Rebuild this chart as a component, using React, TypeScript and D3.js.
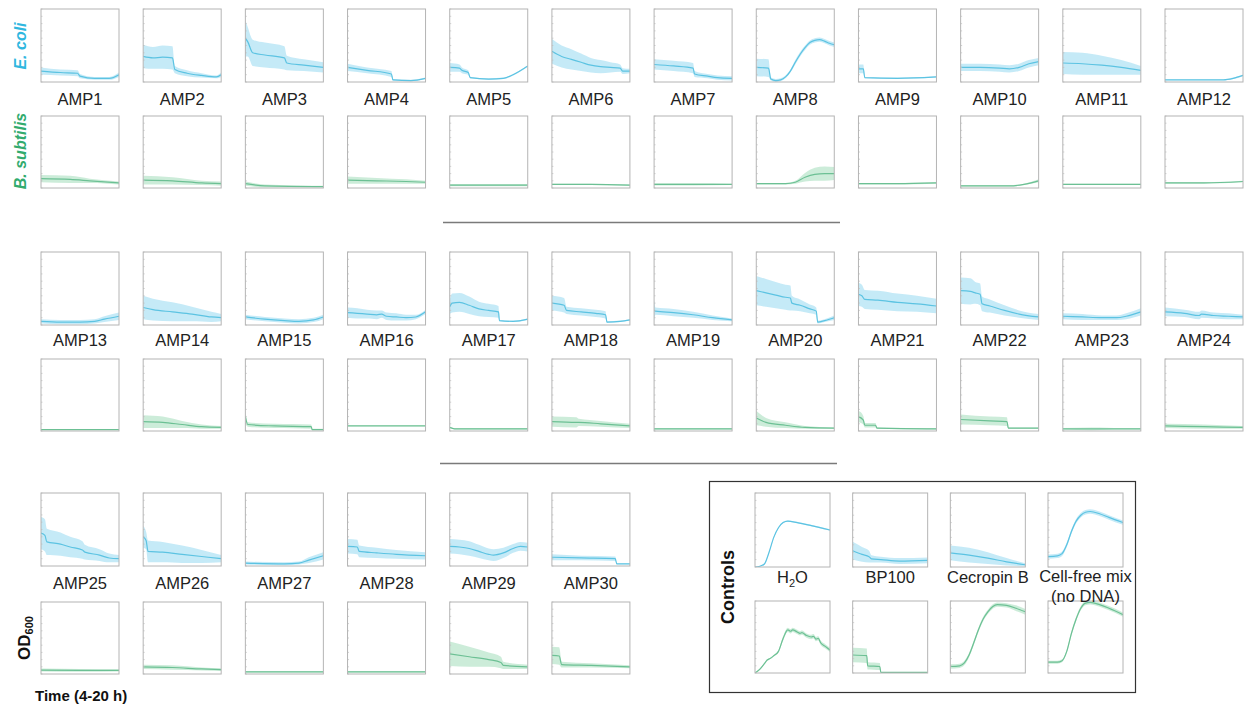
import React from "react";
import * as d3 from "d3";

// each series: [time (h), mean OD (normalised), spread]
type Pt = [number, number, number];

const labelsA = ["AMP1", "AMP2", "AMP3", "AMP4", "AMP5", "AMP6", "AMP7", "AMP8", "AMP9", "AMP10", "AMP11", "AMP12"];
const labelsB = ["AMP13", "AMP14", "AMP15", "AMP16", "AMP17", "AMP18", "AMP19", "AMP20", "AMP21", "AMP22", "AMP23", "AMP24"];
const labelsC = ["AMP25", "AMP26", "AMP27", "AMP28", "AMP29", "AMP30"];
const ctrlLabels = ["H2O", "BP100", "Cecropin B", "Cell-free mix"];

const ecoliA: Pt[][] = [
  [[4, 0.15, 0.05], [8, 0.13, 0.04], [11.5, 0.12, 0.04], [12, 0.08, 0.03], [15, 0.05, 0.02], [18, 0.05, 0.02], [20, 0.1, 0.03]],
  [[4, 0.35, 0.16], [6, 0.33, 0.15], [8, 0.34, 0.16], [10, 0.33, 0.16], [10.5, 0.17, 0.05], [13, 0.12, 0.04], [16, 0.09, 0.03], [19, 0.07, 0.02], [20, 0.1, 0.03]],
  [[4, 0.6, 0.25], [4.5, 0.55, 0.2], [5.5, 0.4, 0.18], [8, 0.37, 0.17], [12, 0.33, 0.16], [12.5, 0.26, 0.1], [16, 0.23, 0.08], [20, 0.2, 0.07]],
  [[4, 0.2, 0.05], [8, 0.16, 0.04], [13, 0.11, 0.04], [13.3, 0.03, 0.01], [17, 0.02, 0.01], [20, 0.05, 0.01]],
  [[4, 0.2, 0.06], [6, 0.19, 0.05], [6.5, 0.16, 0.04], [7.8, 0.13, 0.03], [8.2, 0.06, 0.01], [12, 0.04, 0.01], [15, 0.05, 0.01], [17, 0.1, 0.01], [20, 0.22, 0.01]],
  [[4, 0.42, 0.17], [6, 0.35, 0.15], [8, 0.31, 0.14], [10, 0.27, 0.12], [12, 0.23, 0.1], [14, 0.21, 0.09], [16, 0.2, 0.07], [18, 0.19, 0.05], [18.5, 0.15, 0.04], [20, 0.15, 0.03]],
  [[4, 0.24, 0.07], [8, 0.22, 0.07], [12, 0.19, 0.07], [12.3, 0.11, 0.04], [15, 0.08, 0.03], [17, 0.06, 0.03], [20, 0.05, 0.03]],
  [[4, 0.2, 0.12], [6.5, 0.19, 0.12], [7, 0.04, 0.02], [8, 0.02, 0.02], [9, 0.03, 0.02], [10, 0.07, 0.02], [11, 0.15, 0.02], [12, 0.27, 0.03], [13, 0.38, 0.03], [14, 0.47, 0.03], [15, 0.54, 0.03], [16, 0.57, 0.03], [17, 0.58, 0.03], [18, 0.56, 0.03], [19, 0.53, 0.03], [20, 0.51, 0.03]],
  [[4, 0.18, 0.06], [5, 0.18, 0.06], [5.3, 0.06, 0.01], [12, 0.05, 0.01], [20, 0.07, 0.01]],
  [[4, 0.2, 0.05], [8, 0.2, 0.05], [12, 0.19, 0.05], [14, 0.18, 0.05], [16, 0.2, 0.05], [18, 0.25, 0.05], [20, 0.28, 0.05]],
  [[4, 0.26, 0.15], [8, 0.25, 0.15], [12, 0.23, 0.13], [16, 0.2, 0.1], [20, 0.16, 0.06]],
  [[4, 0.03, 0.005], [12, 0.03, 0.005], [16, 0.03, 0.005], [18, 0.05, 0.01], [20, 0.09, 0.01]],
];

const bsubA: Pt[][] = [
  [[4, 0.13, 0.05], [10, 0.12, 0.05], [14, 0.1, 0.03], [20, 0.07, 0.02]],
  [[4, 0.11, 0.06], [10, 0.1, 0.05], [16, 0.07, 0.03], [20, 0.06, 0.03]],
  [[4, 0.06, 0.03], [8, 0.03, 0.02], [20, 0.02, 0.01]],
  [[4, 0.11, 0.05], [10, 0.1, 0.04], [16, 0.09, 0.03], [20, 0.08, 0.02]],
  [[4, 0.04, 0.015], [12, 0.04, 0.015], [20, 0.04, 0.015]],
  [[4, 0.05, 0.01], [12, 0.05, 0.01], [20, 0.04, 0.01]],
  [[4, 0.05, 0.015], [12, 0.05, 0.015], [20, 0.05, 0.01]],
  [[4, 0.06, 0.01], [10, 0.06, 0.01], [12, 0.08, 0.02], [14, 0.15, 0.06], [16, 0.19, 0.09], [18, 0.2, 0.1], [20, 0.2, 0.09]],
  [[4, 0.06, 0.01], [12, 0.06, 0.01], [20, 0.07, 0.01]],
  [[4, 0.03, 0.01], [14, 0.03, 0.01], [17, 0.05, 0.01], [20, 0.1, 0.02]],
  [[4, 0.05, 0.01], [12, 0.05, 0.01], [20, 0.05, 0.01]],
  [[4, 0.07, 0.01], [12, 0.07, 0.01], [20, 0.09, 0.01]],
];

const ecoliB: Pt[][] = [
  [[4, 0.05, 0.03], [8, 0.04, 0.03], [12, 0.04, 0.03], [15, 0.05, 0.03], [17, 0.08, 0.04], [20, 0.12, 0.05]],
  [[4, 0.24, 0.16], [6, 0.21, 0.15], [10, 0.18, 0.13], [14, 0.15, 0.1], [18, 0.11, 0.07], [20, 0.1, 0.05]],
  [[4, 0.11, 0.03], [8, 0.08, 0.03], [12, 0.06, 0.03], [15, 0.05, 0.03], [18, 0.07, 0.03], [20, 0.11, 0.03]],
  [[4, 0.17, 0.07], [6, 0.16, 0.07], [8, 0.15, 0.06], [10, 0.14, 0.06], [11, 0.15, 0.05], [12, 0.12, 0.05], [14, 0.11, 0.05], [16, 0.1, 0.04], [18, 0.11, 0.03], [20, 0.18, 0.03]],
  [[4, 0.25, 0.1], [4.5, 0.3, 0.13], [6, 0.31, 0.13], [8, 0.27, 0.12], [10, 0.22, 0.1], [12, 0.2, 0.09], [14, 0.18, 0.08], [14.2, 0.06, 0.01], [17, 0.05, 0.01], [20, 0.08, 0.01]],
  [[4, 0.3, 0.1], [6.5, 0.27, 0.1], [7, 0.2, 0.05], [10, 0.18, 0.05], [13, 0.16, 0.05], [15, 0.14, 0.05], [15.3, 0.04, 0.01], [18, 0.05, 0.01], [20, 0.07, 0.01]],
  [[4, 0.2, 0.15], [4.3, 0.19, 0.05], [8, 0.17, 0.05], [12, 0.14, 0.04], [16, 0.1, 0.03], [20, 0.07, 0.02]],
  [[4, 0.47, 0.2], [6, 0.44, 0.19], [8, 0.41, 0.18], [10, 0.38, 0.17], [11, 0.37, 0.17], [11.3, 0.3, 0.1], [13, 0.27, 0.08], [15, 0.22, 0.06], [16.3, 0.19, 0.05], [16.6, 0.04, 0.02], [18, 0.06, 0.02], [20, 0.1, 0.03]],
  [[4, 0.42, 0.16], [4.7, 0.4, 0.15], [5.3, 0.35, 0.13], [8, 0.34, 0.13], [12, 0.31, 0.12], [16, 0.29, 0.11], [20, 0.26, 0.1]],
  [[4, 0.47, 0.18], [6, 0.46, 0.18], [7, 0.44, 0.15], [8, 0.42, 0.15], [8.4, 0.29, 0.1], [10, 0.26, 0.09], [13, 0.2, 0.07], [16, 0.15, 0.05], [20, 0.11, 0.04]],
  [[4, 0.12, 0.04], [8, 0.11, 0.04], [12, 0.1, 0.03], [15, 0.1, 0.03], [17, 0.12, 0.04], [20, 0.18, 0.05]],
  [[4, 0.18, 0.06], [8, 0.16, 0.05], [11, 0.13, 0.05], [11.5, 0.15, 0.05], [14, 0.13, 0.04], [17, 0.12, 0.04], [20, 0.11, 0.03]],
];

const bsubB: Pt[][] = [
  [[4, 0.02, 0.005], [12, 0.02, 0.005], [20, 0.02, 0.005]],
  [[4, 0.13, 0.09], [8, 0.12, 0.08], [12, 0.09, 0.05], [16, 0.06, 0.03], [20, 0.05, 0.02]],
  [[4, 0.2, 0.1], [4.5, 0.09, 0.03], [10, 0.07, 0.03], [17.5, 0.06, 0.03], [17.7, 0.02, 0.01], [20, 0.02, 0.01]],
  [[4, 0.07, 0.005], [12, 0.07, 0.005], [20, 0.07, 0.005]],
  [[4, 0.05, 0.01], [5, 0.03, 0.01], [20, 0.03, 0.01]],
  [[4, 0.13, 0.07], [9, 0.12, 0.07], [9.5, 0.12, 0.05], [14, 0.1, 0.04], [20, 0.07, 0.03]],
  [[4, 0.03, 0.01], [12, 0.03, 0.01], [20, 0.03, 0.01]],
  [[4, 0.18, 0.1], [6, 0.12, 0.06], [10, 0.08, 0.04], [14, 0.05, 0.02], [20, 0.04, 0.01]],
  [[4, 0.2, 0.08], [5, 0.15, 0.06], [5.3, 0.08, 0.03], [7.5, 0.08, 0.03], [7.8, 0.04, 0.01], [20, 0.03, 0.01]],
  [[4, 0.16, 0.07], [10, 0.14, 0.06], [13.5, 0.13, 0.06], [13.8, 0.04, 0.01], [20, 0.04, 0.01]],
  [[4, 0.03, 0.01], [10, 0.03, 0.02], [16, 0.03, 0.01], [20, 0.03, 0.01]],
  [[4, 0.07, 0.03], [12, 0.06, 0.03], [20, 0.05, 0.02]],
];

const ecoliC: Pt[][] = [
  [[4, 0.45, 0.22], [4.8, 0.42, 0.22], [5.2, 0.33, 0.18], [8, 0.3, 0.16], [10, 0.26, 0.14], [12.5, 0.22, 0.12], [13, 0.19, 0.1], [16, 0.15, 0.08], [18, 0.11, 0.06], [20, 0.1, 0.05]],
  [[4, 0.4, 0.15], [4.6, 0.35, 0.12], [5, 0.2, 0.15], [8, 0.19, 0.14], [12, 0.16, 0.12], [16, 0.13, 0.09], [20, 0.1, 0.05]],
  [[4, 0.04, 0.02], [12, 0.03, 0.02], [15, 0.04, 0.02], [17, 0.08, 0.04], [20, 0.14, 0.05]],
  [[4, 0.27, 0.1], [6, 0.26, 0.1], [6.4, 0.2, 0.08], [10, 0.18, 0.07], [14, 0.16, 0.06], [20, 0.14, 0.05]],
  [[4, 0.27, 0.1], [6, 0.26, 0.1], [8, 0.24, 0.1], [10, 0.2, 0.09], [12, 0.16, 0.08], [13, 0.15, 0.08], [15, 0.18, 0.07], [17, 0.24, 0.06], [18.5, 0.27, 0.06], [20, 0.26, 0.06]],
  [[4, 0.12, 0.04], [10, 0.11, 0.03], [17, 0.1, 0.03], [17.3, 0.03, 0.005], [20, 0.03, 0.005]],
];

const bsubC: Pt[][] = [
  [[4, 0.055, 0.02], [12, 0.05, 0.02], [20, 0.05, 0.015]],
  [[4, 0.1, 0.03], [10, 0.09, 0.03], [16, 0.07, 0.02], [20, 0.06, 0.02]],
  [[4, 0.03, 0.01], [12, 0.03, 0.01], [20, 0.03, 0.01]],
  [[4, 0.03, 0.01], [12, 0.03, 0.01], [20, 0.03, 0.01]],
  [[4, 0.28, 0.17], [8, 0.24, 0.14], [12, 0.2, 0.1], [14.5, 0.16, 0.08], [15, 0.12, 0.05], [20, 0.1, 0.03]],
  [[4, 0.26, 0.12], [5.5, 0.25, 0.12], [6, 0.13, 0.04], [12, 0.12, 0.03], [20, 0.1, 0.02]],
];

const ctrlEcoli: Pt[][] = [
  [[4, 0.0, 0.005], [5, 0.01, 0.005], [6, 0.04, 0.01], [7, 0.2, 0.01], [8, 0.4, 0.01], [9, 0.53, 0.01], [10, 0.6, 0.01], [11, 0.62, 0.01], [13, 0.6, 0.01], [16, 0.56, 0.01], [20, 0.5, 0.01]],
  [[4, 0.22, 0.12], [6, 0.17, 0.1], [7.5, 0.14, 0.08], [8, 0.11, 0.05], [10, 0.1, 0.04], [14, 0.08, 0.04], [20, 0.09, 0.04]],
  [[4, 0.19, 0.1], [8, 0.16, 0.1], [12, 0.12, 0.08], [16, 0.07, 0.05], [20, 0.03, 0.02]],
  [[4, 0.14, 0.03], [6, 0.15, 0.03], [7, 0.18, 0.03], [8, 0.3, 0.03], [9, 0.48, 0.03], [10, 0.62, 0.03], [11, 0.7, 0.03], [12, 0.74, 0.03], [13, 0.75, 0.03], [15, 0.72, 0.03], [17, 0.67, 0.03], [20, 0.6, 0.03]],
];

const ctrlBsub: Pt[][] = [
  [[4, 0.0, 0.01], [5, 0.05, 0.01], [6, 0.13, 0.01], [6.6, 0.18, 0.01], [7.2, 0.2, 0.01], [8, 0.24, 0.01], [9, 0.3, 0.02], [10, 0.48, 0.03], [11, 0.6, 0.03], [11.6, 0.58, 0.03], [12, 0.6, 0.03], [13, 0.57, 0.03], [13.6, 0.55, 0.03], [14, 0.56, 0.03], [15, 0.52, 0.03], [16, 0.5, 0.03], [16.5, 0.51, 0.03], [17, 0.47, 0.03], [17.5, 0.48, 0.03], [18, 0.42, 0.03], [19, 0.37, 0.03], [20, 0.32, 0.03]],
  [[4, 0.25, 0.1], [7, 0.24, 0.1], [7.2, 0.1, 0.05], [9.8, 0.09, 0.05], [10, 0.01, 0.005], [20, 0.01, 0.005]],
  [[4, 0.09, 0.03], [6, 0.1, 0.03], [7, 0.14, 0.03], [8, 0.25, 0.03], [9, 0.42, 0.03], [10, 0.6, 0.03], [11, 0.75, 0.03], [12, 0.85, 0.03], [13, 0.92, 0.03], [14, 0.95, 0.03], [16, 0.94, 0.03], [18, 0.9, 0.04], [20, 0.85, 0.04]],
  [[4, 0.15, 0.02], [6, 0.15, 0.02], [7, 0.17, 0.02], [8, 0.3, 0.02], [9, 0.55, 0.03], [10, 0.75, 0.03], [11, 0.9, 0.03], [12, 0.97, 0.03], [13, 0.98, 0.03], [15, 0.95, 0.03], [17, 0.9, 0.03], [20, 0.81, 0.03]],
];

const BLUE = { line: "#5cc3e2", band: "#bfe8f6" };
const GREEN = { line: "#6cc094", band: "#c6ead5" };
const FONT = "Liberation Sans, Arial, sans-serif";

let clipId = 0;

function Panel({ x, y, w, h, data, color }: { x: number; y: number; w: number; h: number; data: Pt[]; color: { line: string; band: string } }) {
  const id = "clip" + clipId++;
  const xs = d3.scaleLinear().domain([4, 20]).range([0, w]);
  const ys = d3.scaleLinear().domain([0, 1]).range([h, 0]);
  const area = d3
    .area<Pt>()
    .x((d) => xs(d[0]))
    .y0((d) => ys(Math.max(0, d[1] - d[2])))
    .y1((d) => ys(d[1] + d[2]))
    .curve(d3.curveMonotoneX);
  const line = d3
    .line<Pt>()
    .x((d) => xs(d[0]))
    .y((d) => ys(d[1]))
    .curve(d3.curveMonotoneX);
  const ticks = ys.ticks(10);
  return (
    <g transform={`translate(${x},${y})`}>
      <clipPath id={id}>
        <rect x={0} y={0} width={w} height={h} />
      </clipPath>
      <rect x={0} y={0} width={w} height={h} fill="#fff" />
      <g clipPath={`url(#${id})`}>
        <path d={area(data) || ""} fill={color.band} opacity={0.9} />
        <path d={line(data) || ""} fill="none" stroke={color.line} strokeWidth={1.2} />
      </g>
      {ticks.map((t) => (
        <line key={t} x1={0} x2={1.5} y1={ys(t)} y2={ys(t)} stroke="#c8c8c8" strokeWidth={0.8} />
      ))}
      <rect x={0} y={0} width={w} height={h} fill="none" stroke="#b4b4b4" strokeWidth={1} />
    </g>
  );
}

const colX = d3.scaleLinear().domain([0, 11]).range([41, 1165]);
const ctrlX = d3.scaleLinear().domain([0, 3]).range([755, 1048]);
const PW = 78;
const PH = 73;

export default function App() {
  clipId = 0;
  const labelStyle = { fontFamily: FONT, fontSize: 16.5, fill: "#222" } as const;
  const block = (labels: string[], ec: Pt[][], bs: Pt[][], yTop: number, yLabel: number, yBot: number) =>
    labels.map((name, i) => (
      <g key={name}>
        <Panel x={colX(i)} y={yTop} w={PW} h={PH} data={ec[i]} color={BLUE} />
        <text x={colX(i) + PW / 2} y={yLabel} textAnchor="middle" dominantBaseline="middle" style={labelStyle}>
          {name}
        </text>
        <Panel x={colX(i)} y={yBot} w={PW} h={72} data={bs[i]} color={GREEN} />
      </g>
    ));

  return (
    <svg width={1244} height={707} style={{ position: "absolute", left: 0, top: 0, background: "#fff" }}>
      <rect width={1244} height={707} fill="#fff" />
      {block(labelsA, ecoliA, bsubA, 9, 101, 116)}
      {block(labelsB, ecoliB, bsubB, 252, 342, 359)}
      {block(labelsC, ecoliC, bsubC, 493, 585, 602)}

      <text transform="translate(26,46) rotate(-90)" textAnchor="middle" style={{ fontFamily: FONT, fontSize: 16, fontStyle: "italic", fontWeight: "bold", fill: "#2fb7df" }}>
        E. coli
      </text>
      <text transform="translate(26,151) rotate(-90)" textAnchor="middle" style={{ fontFamily: FONT, fontSize: 16, fontStyle: "italic", fontWeight: "bold", fill: "#32ab6e" }}>
        B. subtilis
      </text>
      <text transform="translate(30,638) rotate(-90)" textAnchor="middle" style={{ fontFamily: FONT, fontSize: 17, fontWeight: "bold", fill: "#111" }}>
        OD<tspan fontSize={11} dy={3}>600</tspan>
      </text>
      <text x={35} y={701} style={{ fontFamily: FONT, fontSize: 15, fontWeight: "bold", fill: "#111" }}>
        Time (4-20 h)
      </text>

      <line x1={443} x2={840} y1={222.5} y2={222.5} stroke="#7a7a7a" strokeWidth={1.6} />
      <line x1={440} x2={837} y1={463.5} y2={463.5} stroke="#7a7a7a" strokeWidth={1.6} />

      <rect x={709.5} y={481.5} width={426} height={211} fill="none" stroke="#333" strokeWidth={1.2} />
      <text transform="translate(734,587) rotate(-90)" textAnchor="middle" style={{ fontFamily: FONT, fontSize: 18, fontWeight: "bold", fill: "#111" }}>
        Controls
      </text>
      {ctrlLabels.map((name, i) => (
        <g key={name}>
          <Panel x={ctrlX(i)} y={493} w={75} h={74} data={ctrlEcoli[i]} color={BLUE} />
          <Panel x={ctrlX(i)} y={601} w={75} h={72} data={ctrlBsub[i]} color={GREEN} />
        </g>
      ))}
      <text x={ctrlX(0) + 37.5} y={583} textAnchor="middle" style={labelStyle}>
        H<tspan fontSize={11} dy={4}>2</tspan>
        <tspan dy={-4}>O</tspan>
      </text>
      <text x={ctrlX(1) + 37.5} y={583} textAnchor="middle" style={labelStyle}>
        {ctrlLabels[1]}
      </text>
      <text x={ctrlX(2) + 37.5} y={583} textAnchor="middle" style={labelStyle}>
        {ctrlLabels[2]}
      </text>
      <text x={ctrlX(3) + 37.5} y={582} textAnchor="middle" style={labelStyle}>
        {ctrlLabels[3]}
      </text>
      <text x={ctrlX(3) + 37.5} y={602} textAnchor="middle" style={labelStyle}>
        (no DNA)
      </text>
    </svg>
  );
}
